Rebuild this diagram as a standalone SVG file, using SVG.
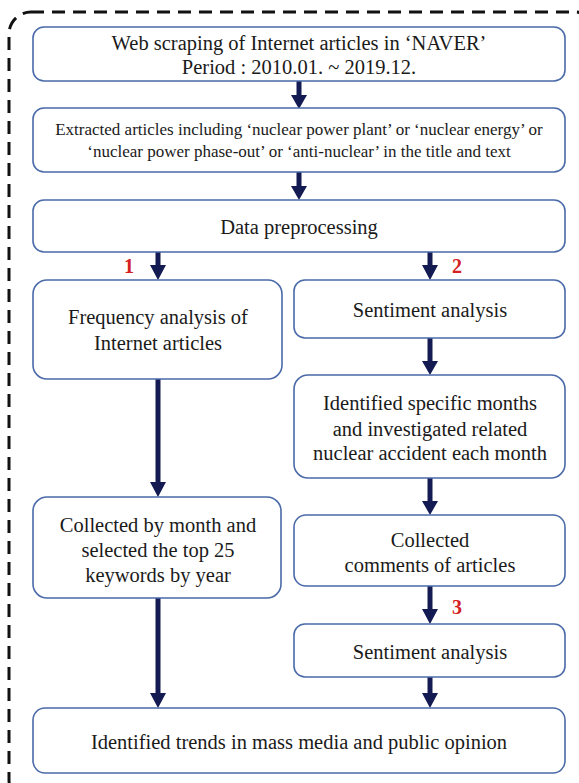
<svg xmlns="http://www.w3.org/2000/svg" width="579" height="783" viewBox="0 0 579 783">
<defs>
<style>
.box{fill:#ffffff;stroke:#4a6aa8;stroke-width:1.6}
.t{font-family:"Liberation Serif","Times New Roman",serif;font-size:20.5px;fill:#1a1a1a;text-anchor:middle}
.s{font-size:17px}
.n{font-family:"Liberation Serif","Times New Roman",serif;font-size:20px;font-weight:bold;fill:#d42020;text-anchor:middle}
.ar{stroke:#141a52;stroke-width:5;fill:none}
.hd{fill:#141a52}
</style>
</defs>
<rect x="0" y="0" width="579" height="783" fill="#ffffff"/>
<rect x="9" y="12" width="588" height="790" rx="22" fill="none" stroke="#111" stroke-width="3" stroke-dasharray="13 8"/>
<g id="connectors">
<line class="ar" x1="299" y1="81" x2="299" y2="96"/><polygon class="hd" points="291,95 307,95 299,109"/>
<line class="ar" x1="299" y1="172" x2="299" y2="187"/><polygon class="hd" points="291,186 307,186 299,200"/>
<line class="ar" x1="158" y1="252" x2="158" y2="266"/><polygon class="hd" points="150,265 166,265 158,280"/>
<line class="ar" x1="430" y1="252" x2="430" y2="266"/><polygon class="hd" points="422,265 438,265 430,280"/>
<line class="ar" x1="430" y1="338" x2="430" y2="362"/><polygon class="hd" points="422,361 438,361 430,375"/>
<line class="ar" x1="158" y1="379" x2="158" y2="483"/><polygon class="hd" points="150,482 166,482 158,497"/>
<line class="ar" x1="430" y1="478" x2="430" y2="502"/><polygon class="hd" points="422,501 438,501 430,515"/>
<line class="ar" x1="430" y1="586" x2="430" y2="610"/><polygon class="hd" points="422,609 438,609 430,624"/>
<line class="ar" x1="158" y1="598" x2="158" y2="694"/><polygon class="hd" points="150,693 166,693 158,708"/>
<line class="ar" x1="430" y1="677" x2="430" y2="694"/><polygon class="hd" points="422,693 438,693 430,708"/>
<text class="n" x="129" y="273">1</text>
<text class="n" x="457" y="273">2</text>
<text class="n" x="457" y="614">3</text>
</g>
<g id="n1"><rect class="box" x="33" y="27" width="532" height="54" rx="11"/>
<text class="t" x="299" y="50">Web scraping of Internet articles in ‘NAVER’</text>
<text class="t" x="299" y="74">Period : 2010.01. ~ 2019.12.</text></g>
<g id="n2"><rect class="box" x="33" y="108" width="532" height="64" rx="11"/>
<text class="t s" x="299" y="135">Extracted articles including ‘nuclear power plant’ or ‘nuclear energy’ or</text>
<text class="t s" x="299" y="157">‘nuclear power phase-out’ or ‘anti-nuclear’ in the title and text</text></g>
<g id="n3"><rect class="box" x="33" y="200" width="532" height="52" rx="11"/>
<text class="t" x="299" y="234">Data preprocessing</text></g>
<g id="n4"><rect class="box" x="33" y="280" width="249" height="99" rx="14"/>
<text class="t" x="158" y="324">Frequency analysis of</text>
<text class="t" x="158" y="350">Internet articles</text></g>
<g id="n5"><rect class="box" x="294" y="280" width="271" height="58" rx="11"/>
<text class="t" x="430" y="317">Sentiment analysis</text></g>
<g id="n6"><rect class="box" x="294" y="375" width="271" height="103" rx="14"/>
<text class="t" x="430" y="410">Identified specific months</text>
<text class="t" x="430" y="436">and investigated related</text>
<text class="t" x="430" y="460">nuclear accident each month</text></g>
<g id="n7"><rect class="box" x="33" y="497" width="248" height="101" rx="14"/>
<text class="t" x="158" y="532">Collected  by month and</text>
<text class="t" x="158" y="557">selected the top 25</text>
<text class="t" x="158" y="582">keywords by year</text></g>
<g id="n8"><rect class="box" x="294" y="515" width="271" height="71" rx="12"/>
<text class="t" x="430" y="547">Collected</text>
<text class="t" x="430" y="572">comments of articles</text></g>
<g id="n9"><rect class="box" x="294" y="624" width="271" height="53" rx="11"/>
<text class="t" x="430" y="659">Sentiment analysis</text></g>
<g id="n10"><rect class="box" x="33" y="708" width="532" height="65" rx="12"/>
<text class="t" x="299" y="749">Identified trends in mass media and public opinion</text></g>
</svg>
